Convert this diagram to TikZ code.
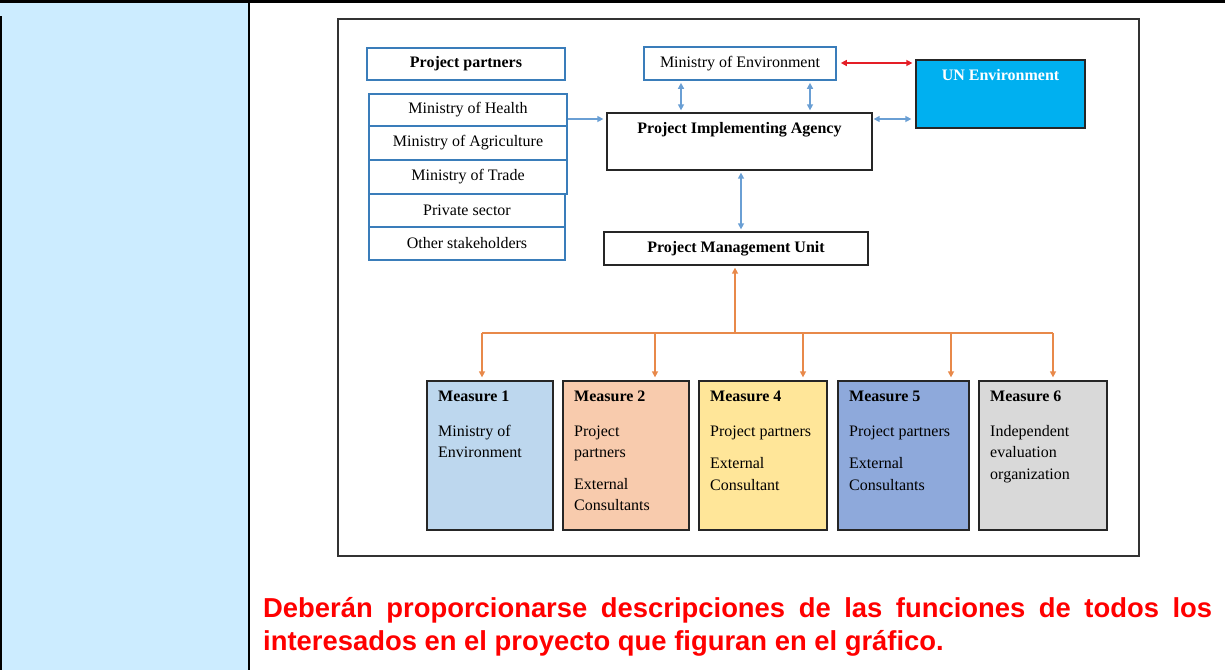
\documentclass[tikz,border=0pt]{standalone}
\usepackage{fontspec}
\setmainfont{Liberation Serif}
\newfontfamily\arialfont{Liberation Sans}
\usetikzlibrary{arrows.meta}
\definecolor{cellblue}{HTML}{CCECFF}
\definecolor{ppblue}{HTML}{3A7DBA}
\definecolor{arrblue}{HTML}{6A9FD4}
\definecolor{orangeline}{HTML}{E8894A}
\definecolor{redarr}{HTML}{E41E26}
\definecolor{unblue}{HTML}{00B0F0}
\definecolor{mone}{HTML}{BDD7EE}
\definecolor{mtwo}{HTML}{F8CBAD}
\definecolor{mfour}{HTML}{FFE699}
\definecolor{mfive}{HTML}{8EA9DB}
\definecolor{msix}{HTML}{D9D9D9}
\begin{document}
\begin{tikzpicture}[x=1pt,y=-1pt,
  txt/.style={font=\fontsize{16}{21}\selectfont, inner sep=0},
  ppbox/.style={draw=ppblue, line width=1.6pt, inner sep=0, font=\fontsize{16}{21}\selectfont},
  blkbox/.style={draw=black!85, line width=1.3pt, inner sep=0, font=\fontsize{16}{21}\selectfont},
  mbox/.style={draw=black!85, line width=1.3pt, inner sep=0, minimum height=149pt},
  mtxt/.style={anchor=north west, inner sep=0, align=left, font=\fontsize{16}{21.5}\selectfont},
  barr/.style={arrblue, line width=1.4pt, -{Triangle[length=6pt,width=6pt]}},
  bdarr/.style={arrblue, line width=1.4pt, {Triangle[length=6pt,width=6pt]}-{Triangle[length=6pt,width=6pt]}},
  rdarr/.style={redarr, line width=1.4pt, {Triangle[length=6pt,width=6pt]}-{Triangle[length=6pt,width=6pt]}},
  oline/.style={orangeline, line width=1.4pt},
  oarr/.style={orangeline, line width=1.4pt, -{Triangle[length=6pt,width=6pt]}},
  redtxt/.style={anchor=base west, inner sep=0, text=red, font=\arialfont\bfseries\fontsize{27.4}{33}\selectfont}
]
\useasboundingbox (0,0) rectangle (1225,670);
% table cells
\fill[cellblue] (0,2) rectangle (249,670);
\draw[line width=3pt] (0,1.5) -- (1225,1.5);
\draw[line width=2.5pt] (1.2,16) -- (1.2,670);
\draw[line width=1.2pt] (249,0) -- (249,670);
% picture frame
\draw[line width=1.6pt, black!80] (338,19) rectangle (1139,556);

% project partners
\node[ppbox, minimum width=198pt, minimum height=32pt] (pp) at (466,64) {\textbf{Project partners}};
\node[ppbox, minimum width=198pt, minimum height=32pt] (health) at (468,110) {Ministry of Health};
\node[ppbox, minimum width=198pt, minimum height=34pt] (agri) at (468,143) {Ministry of Agriculture};
\node[ppbox, minimum width=198pt, minimum height=34pt] (trade) at (468,177) {Ministry of Trade};
\node[ppbox, minimum width=196pt, minimum height=33pt] (priv) at (467,210.5) {Private sector};
\node[ppbox, minimum width=196pt, minimum height=33pt] (other) at (467,243.5) {Other stakeholders};

% central boxes
\node[ppbox, minimum width=192pt, minimum height=33pt] (moe) at (740,63.5) {Ministry of Environment};
\node[draw=black!85, line width=1.3pt, fill=unblue, minimum width=169pt, minimum height=68pt, inner sep=0] (un) at (1000.5,94) {};
\node[txt, text=white, font=\bfseries\fontsize{16}{21}\selectfont] (unt) at (1000.5,75) {UN Environment};
\node[blkbox, minimum width=265pt, minimum height=57pt] (pia) at (739.5,141.5) {};
\node[txt, font=\bfseries\fontsize{16}{21}\selectfont] (piat) at (739.5,130) {Project Implementing Agency};
\node[blkbox, minimum width=264pt, minimum height=33pt] (pmu) at (736,248.5) {\textbf{Project Management Unit}};

% measures
\node[mbox, fill=mone, minimum width=126pt] (m1) at (490,455.5) {};
\node[mbox, fill=mtwo, minimum width=126pt] (m2) at (626,455.5) {};
\node[mbox, fill=mfour, minimum width=128pt] (m4) at (763,455.5) {};
\node[mbox, fill=mfive, minimum width=131pt] (m5) at (903.5,455.5) {};
\node[mbox, fill=msix, minimum width=128pt] (m6) at (1043,455.5) {};
\node[mtxt] (m1t) at (438,391) {\textbf{Measure 1}\\[13pt]Ministry of\\Environment};
\node[mtxt] (m2t) at (574,391) {\textbf{Measure 2}\\[13pt]Project\\partners\\[10pt]External\\Consultants};
\node[mtxt] (m4t) at (710,391) {\textbf{Measure 4}\\[13pt]Project partners\\[11pt]External\\Consultant};
\node[mtxt] (m5t) at (849,391) {\textbf{Measure 5}\\[13pt]Project partners\\[11pt]External\\Consultants};
\node[mtxt] (m6t) at (990,391) {\textbf{Measure 6}\\[13pt]Independent\\evaluation\\organization};

% blue connectors
\coordinate (hy) at (0,119);
\draw[barr, shorten >=3pt] (health.east |- hy) -- (pia.west |- hy);
\coordinate (va) at (681,0);
\coordinate (vb) at (810,0);
\draw[bdarr, shorten <=2pt, shorten >=2pt] (moe.south -| va) -- (pia.north -| va);
\draw[bdarr, shorten <=2pt, shorten >=2pt] (moe.south -| vb) -- (pia.north -| vb);
\coordinate (uy) at (0,119);
\draw[bdarr, shorten <=1pt, shorten >=4pt] (pia.east |- uy) -- (un.west |- uy);
\coordinate (ry) at (0,63);
\draw[rdarr, shorten <=4pt, shorten >=3pt] (moe.east |- ry) -- (un.west |- ry);
\coordinate (vp) at (741,0);
\draw[bdarr, shorten <=2pt, shorten >=2pt] (pia.south -| vp) -- (pmu.north -| vp);

% orange connectors
\coordinate (bus) at (735,333);
\coordinate (b1) at (482,333);
\coordinate (b2) at (655,333);
\coordinate (b4) at (803,333);
\coordinate (b5) at (951,333);
\coordinate (b6) at (1053,333);
\draw[oarr, shorten >=2pt] (bus) -- (pmu.south -| bus);
\draw[oline] (b1) -- (b6);
\draw[oarr, shorten >=3pt] (b1) -- (m1.north -| b1);
\draw[oarr, shorten >=3pt] (b2) -- (m2.north -| b2);
\draw[oarr, shorten >=3pt] (b4) -- (m4.north -| b4);
\draw[oarr, shorten >=3pt] (b5) -- (m5.north -| b5);
\draw[oarr, shorten >=3pt] (b6) -- (m6.north -| b6);

% red text
\node[redtxt] (r1) at (263,617) {\makebox[949pt][s]{Deberán proporcionarse descripciones de las funciones de todos los}};
\node[redtxt] (r2) at (263,650) {interesados en el proyecto que figuran en el gráfico.};
\end{tikzpicture}
\end{document}
